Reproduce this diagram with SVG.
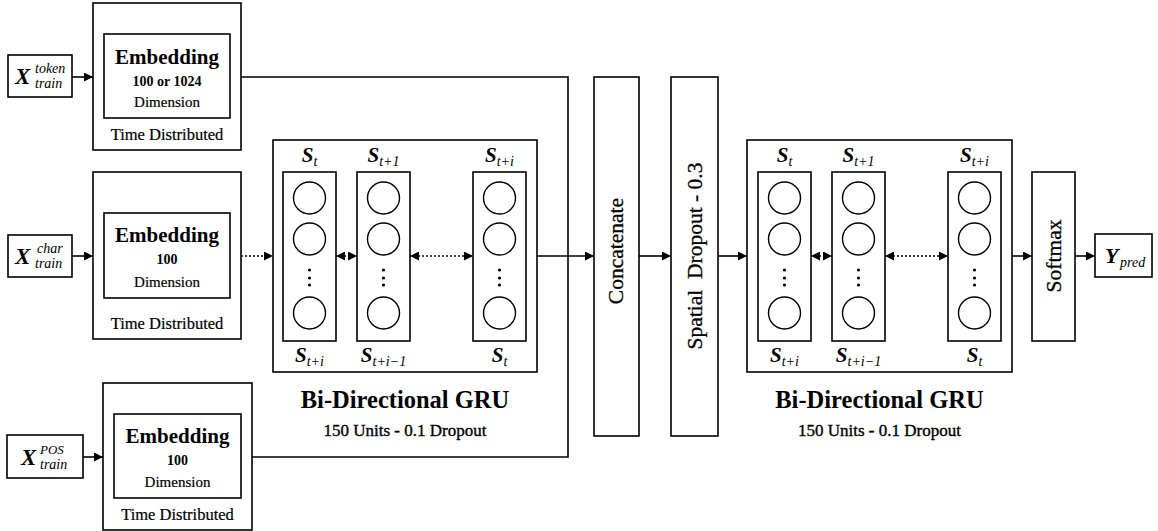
<svg xmlns="http://www.w3.org/2000/svg" width="1158" height="531" viewBox="0 0 1158 531">
<style>
.box{fill:#fff;stroke:#000;stroke-width:1.6}
.ibox{fill:none;stroke:#000;stroke-width:1.6}
.cir{fill:#fff;stroke:#000;stroke-width:1.4}
.dot{fill:#000}
.t{font-family:"Liberation Serif","Times New Roman",serif;fill:#000;text-anchor:middle}
.emb{font-size:21px;font-weight:bold}
.num{font-size:14px;font-weight:bold}
.dim{font-size:15px;stroke:#000;stroke-width:0.2}
.td{font-size:16.5px;stroke:#000;stroke-width:0.2}
.gru{font-size:24.5px;font-weight:bold}
.units{font-size:17px;stroke:#000;stroke-width:0.35}
.rot{font-size:21.5px;stroke:#000;stroke-width:0.3}
.m{font-family:"Liberation Serif","Times New Roman",serif;font-style:italic;font-weight:bold;fill:#000}
.ms{font-family:"Liberation Serif","Times New Roman",serif;font-style:italic;fill:#000}
.c{fill:none;stroke:#000;stroke-width:1.6}
.d{fill:none;stroke:#000;stroke-width:1.6;stroke-dasharray:2 2}
</style>
<defs>
<marker id="ah" viewBox="0 0 10 10" refX="10" refY="5" markerWidth="10" markerHeight="9" orient="auto-start-reverse" markerUnits="userSpaceOnUse"><path d="M0,0 L10,5 L0,10 z" fill="#000"/></marker>
<g id="col">
<rect class="ibox" x="0" y="0" width="53" height="169"/>
<circle class="cir" cx="26.5" cy="26" r="16"/>
<circle class="cir" cx="26.5" cy="67" r="16"/>
<circle class="dot" cx="26.5" cy="98" r="1.6"/>
<circle class="dot" cx="26.5" cy="106" r="1.6"/>
<circle class="dot" cx="26.5" cy="113" r="1.6"/>
<circle class="cir" cx="26.5" cy="141" r="16"/>
</g>
</defs>

<!-- inputs -->
<g id="x-token">
<rect class="box" x="8" y="55" width="64" height="42"/>
<text class="m" x="15" y="84" font-size="23">X</text>
<text class="ms" x="35" y="73" font-size="14">token</text>
<text class="ms" x="35" y="88" font-size="14">train</text>
</g>
<g id="x-char">
<rect class="box" x="8" y="235" width="64" height="42"/>
<text class="m" x="15" y="264" font-size="23">X</text>
<text class="ms" x="37" y="253" font-size="14">char</text>
<text class="ms" x="35" y="268" font-size="14">train</text>
</g>
<g id="x-pos">
<rect class="box" x="7" y="435" width="76" height="43"/>
<text class="m" x="21" y="465" font-size="23">X</text>
<text class="ms" x="40" y="454" font-size="13">POS</text>
<text class="ms" x="40" y="469" font-size="14">train</text>
</g>

<!-- embeddings -->
<g id="emb-token">
<rect class="box" x="93" y="3" width="148" height="147"/>
<rect class="ibox" x="104" y="34" width="126" height="84"/>
<text class="t emb" x="167" y="64">Embedding</text>
<text class="t num" x="167" y="86">100 or 1024</text>
<text class="t dim" x="167" y="107">Dimension</text>
<text class="t td" x="167" y="140">Time Distributed</text>
</g>
<g id="emb-char">
<rect class="box" x="93" y="172" width="148" height="167"/>
<rect class="ibox" x="104" y="213" width="126" height="85"/>
<text class="t emb" x="167" y="242">Embedding</text>
<text class="t num" x="167" y="264">100</text>
<text class="t dim" x="167" y="287">Dimension</text>
<text class="t td" x="167" y="329">Time Distributed</text>
</g>
<g id="emb-pos">
<rect class="box" x="103" y="383" width="149" height="147"/>
<rect class="ibox" x="114" y="414" width="127" height="84"/>
<text class="t emb" x="177.5" y="443">Embedding</text>
<text class="t num" x="177.5" y="465">100</text>
<text class="t dim" x="177.5" y="487">Dimension</text>
<text class="t td" x="177.5" y="520">Time Distributed</text>
</g>

<!-- GRU 1 -->
<g id="gru1">
<rect class="box" x="273" y="140" width="264" height="232"/>
<use href="#col" x="283" y="172"/>
<use href="#col" x="357" y="172"/>
<use href="#col" x="473" y="172"/>
<text class="m" x="309.5" y="162" font-size="21" text-anchor="middle">S<tspan class="ms" font-size="14" font-weight="normal" dy="4">t</tspan></text>
<text class="m" x="383.5" y="162" font-size="21" text-anchor="middle">S<tspan class="ms" font-size="14" font-weight="normal" dy="4">t+1</tspan></text>
<text class="m" x="499.5" y="162" font-size="21" text-anchor="middle">S<tspan class="ms" font-size="14" font-weight="normal" dy="4">t+i</tspan></text>
<text class="m" x="309.5" y="362" font-size="21" text-anchor="middle">S<tspan class="ms" font-size="14" font-weight="normal" dy="4">t+i</tspan></text>
<text class="m" x="383.5" y="362" font-size="21" text-anchor="middle">S<tspan class="ms" font-size="14" font-weight="normal" dy="4">t+i−1</tspan></text>
<text class="m" x="499.5" y="362" font-size="21" text-anchor="middle">S<tspan class="ms" font-size="14" font-weight="normal" dy="4">t</tspan></text>
<text class="t gru" x="405" y="408">Bi-Directional GRU</text>
<text class="t units" x="405" y="436">150 Units - 0.1 Dropout</text>
</g>

<g id="concatenate">
<rect class="box" x="594" y="77" width="45" height="359"/>
<text class="t rot" transform="translate(623,251) rotate(-90)">Concatenate</text>
</g>
<g id="spatial-dropout">
<rect class="box" x="671" y="77" width="47" height="359"/>
<text class="t rot" font-size="22.5px" transform="translate(702,256) rotate(-90)" xml:space="preserve">Spatial  Dropout - 0.3</text>
</g>

<!-- GRU 2 -->
<g id="gru2">
<rect class="box" x="747" y="140" width="265" height="232"/>
<use href="#col" x="758" y="172"/>
<use href="#col" x="832" y="172"/>
<use href="#col" x="948" y="172"/>
<text class="m" x="784.5" y="162" font-size="21" text-anchor="middle">S<tspan class="ms" font-size="14" font-weight="normal" dy="4">t</tspan></text>
<text class="m" x="858.5" y="162" font-size="21" text-anchor="middle">S<tspan class="ms" font-size="14" font-weight="normal" dy="4">t+1</tspan></text>
<text class="m" x="974.5" y="162" font-size="21" text-anchor="middle">S<tspan class="ms" font-size="14" font-weight="normal" dy="4">t+i</tspan></text>
<text class="m" x="784.5" y="362" font-size="21" text-anchor="middle">S<tspan class="ms" font-size="14" font-weight="normal" dy="4">t+i</tspan></text>
<text class="m" x="858.5" y="362" font-size="21" text-anchor="middle">S<tspan class="ms" font-size="14" font-weight="normal" dy="4">t+i−1</tspan></text>
<text class="m" x="974.5" y="362" font-size="21" text-anchor="middle">S<tspan class="ms" font-size="14" font-weight="normal" dy="4">t</tspan></text>
<text class="t gru" x="879.5" y="408">Bi-Directional GRU</text>
<text class="t units" x="879.5" y="436">150 Units - 0.1 Dropout</text>
</g>

<g id="softmax">
<rect class="box" x="1032" y="172" width="43" height="169"/>
<text class="t rot" font-size="22px" transform="translate(1061,256) rotate(-90)">Softmax</text>
</g>
<g id="y-pred">
<rect class="box" x="1095" y="234" width="57" height="43"/>
<text class="m" x="1105" y="263" font-size="22">Y</text>
<text class="ms" x="1120" y="267" font-size="14">pred</text>
</g>

<!-- connectors -->
<g id="connectors">
<path class="c" d="M72,77 H93" marker-end="url(#ah)"/>
<path class="c" d="M72,256 H93" marker-end="url(#ah)"/>
<path class="c" d="M83,457 H103" marker-end="url(#ah)"/>
<path class="d" d="M241,256 H273" marker-end="url(#ah)"/>
<path class="d" d="M336,256 H357" marker-start="url(#ah)" marker-end="url(#ah)"/>
<path class="d" d="M410,256 H473" marker-start="url(#ah)" marker-end="url(#ah)"/>
<path class="d" d="M811,256 H832" marker-start="url(#ah)" marker-end="url(#ah)"/>
<path class="d" d="M885,256 H948" marker-start="url(#ah)" marker-end="url(#ah)"/>
<path class="c" d="M241,77 H568 V457 H252"/>
<path class="c" d="M537,256 H594" marker-end="url(#ah)"/>
<path class="c" d="M639,256 H671" marker-end="url(#ah)"/>
<path class="c" d="M718,256 H747" marker-end="url(#ah)"/>
<path class="c" d="M1012,256 H1032" marker-end="url(#ah)"/>
<path class="c" d="M1075,256 H1095" marker-end="url(#ah)"/>
</g>
</svg>
